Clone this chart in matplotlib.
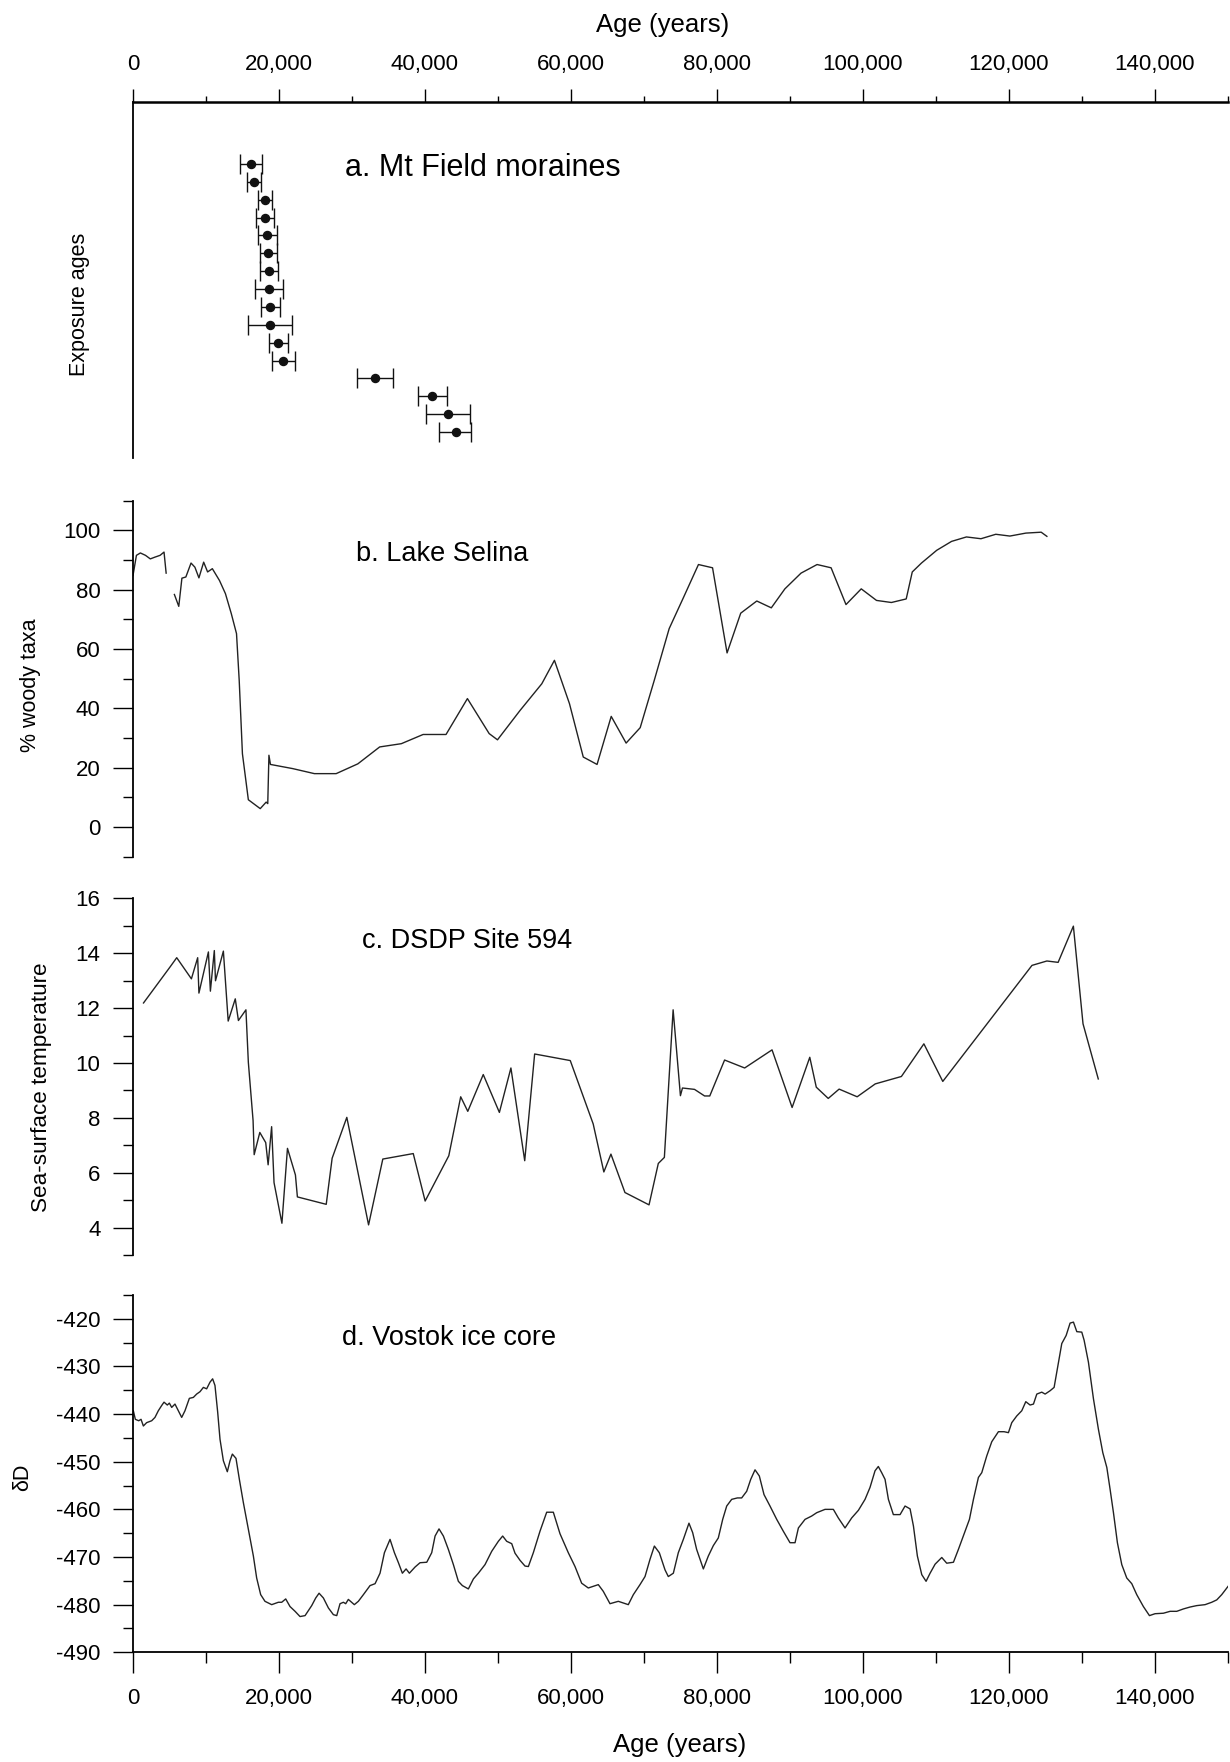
import numpy as np
import matplotlib
matplotlib.use("Agg")
import matplotlib.pyplot as plt
from matplotlib.ticker import MultipleLocator, FuncFormatter

plt.rcParams['font.family'] = ['Liberation Sans', 'DejaVu Sans']
plt.rcParams['axes.unicode_minus'] = False

# a. Mt Field moraines - exposure ages (years), with lower/upper error bounds
exp_age = [16170, 16580, 18040, 18040, 18400, 18540, 18630, 18630, 18770, 18810,
           19910, 20590, 33110, 41010, 43150, 44200]
exp_lo = [14660, 15660, 17170, 16800, 17170, 17400, 17400, 16710, 17540, 15800,
          18680, 19000, 30730, 39090, 40140, 41970]
exp_hi = [17630, 17490, 19090, 19360, 19680, 19680, 19910, 20550, 20140, 21780,
          21190, 22190, 35570, 42970, 46170, 46310]
exp_rank = list(range(1, 17))

# b. Lake Selina - % woody taxa (two segments, gap in record)
selina_age1 = [0, 470, 1010, 1710, 2370, 3010, 3710, 4250, 4540]
selina_val1 = [84.8, 91.6, 92.4, 91.6, 90.4, 91.0, 91.6, 92.7, 85.6]
selina_age2 = [5670, 6270, 6700, 7240, 7950, 8480, 9030, 9680, 10220, 10870,
               11850, 12660, 13470, 14180, 14550, 14990, 15800, 17430, 18240, 18460,
               18620, 18830, 21870, 24850, 27830, 30800, 33790, 36760, 39740, 42880,
               45810, 48790, 49930, 53020, 56000, 57730, 59790, 61680, 63570, 65510,
               67550, 69480, 71400, 73450, 75430, 77460, 79390, 81380, 83250, 85450,
               87440, 89300, 91510, 93710, 95630, 97670, 99760, 101850, 103890, 105920,
               106750, 108010, 110100, 112130, 114170, 116160, 118190, 120120, 122320, 124410,
               125190]
selina_val2 = [78.4, 74.4, 83.9, 84.3, 89.0, 87.6, 84.0, 89.3, 86.0, 87.1,
               83.1, 78.7, 71.9, 65.2, 49.4, 24.7, 9.2, 6.2, 8.4, 7.9,
               24.2, 21.1, 19.7, 18.0, 18.0, 21.3, 27.0, 28.1, 31.2, 31.2,
               43.3, 31.5, 29.4, 39.3, 48.3, 56.2, 41.6, 23.6, 21.1, 37.3,
               28.3, 33.5, 49.4, 66.9, 77.5, 88.5, 87.4, 58.7, 72.1, 76.2,
               73.9, 80.3, 85.6, 88.5, 87.4, 75.0, 80.3, 76.4, 75.7, 76.9,
               86.0, 89.0, 93.3, 96.3, 97.8, 97.2, 98.7, 98.1, 99.1, 99.4,
               98.0]

# c. DSDP Site 594 - sea-surface temperature
dsdp_age = [1440, 5070, 5990, 8000, 8860, 9030, 10330, 10600, 11140, 11300,
            12380, 13040, 14010, 14440, 15470, 15800, 16450, 16600, 17370, 18180,
            18510, 18990, 19320, 20400, 21160, 22250, 22520, 26470, 27280, 29290,
            32270, 34220, 38390, 40020, 43260, 44890, 45860, 47980, 50190, 51770,
            53660, 55020, 59900, 63040, 64500, 65470, 67390, 70690, 71960, 72790,
            73990, 74990, 75270, 76920, 78300, 79010, 81040, 83790, 87540, 90290,
            92710, 93600, 95240, 96730, 99200, 101680, 105260, 108340, 110930, 123150,
            125190, 126730, 128820, 130140, 132230]
dsdp_sst = [12.19, 13.5, 13.84, 13.07, 13.84, 12.55, 14.05, 12.62, 14.1, 13.0,
            14.08, 11.53, 12.34, 11.55, 11.94, 10.03, 7.9, 6.66, 7.47, 7.1,
            6.29, 7.68, 5.64, 4.16, 6.89, 5.92, 5.12, 4.85, 6.53, 8.02,
            4.1, 6.5, 6.7, 4.97, 6.62, 8.77, 8.24, 9.58, 8.2, 9.82,
            6.44, 10.33, 10.09, 7.78, 6.03, 6.68, 5.28, 4.83, 6.34, 6.56,
            11.94, 8.81, 9.09, 9.04, 8.8, 8.8, 10.11, 9.82, 10.48, 8.38,
            10.21, 9.12, 8.71, 9.05, 8.77, 9.24, 9.51, 10.7, 9.33, 13.56,
            13.72, 13.67, 14.99, 11.43, 9.42]

# d. Vostok ice core - deuterium
vostok_age = [46, 320, 780, 1100, 1420, 1870, 2560, 3010, 3470, 3930,
              4250, 4700, 4980, 5300, 5750, 6210, 6670, 7120, 7720, 8270,
              8720, 9180, 9640, 10090, 10550, 10910, 11230, 11600, 11920, 12380,
              12920, 13290, 13610, 14110, 14570, 15120, 15800, 16490, 16940, 17490,
              18080, 19000, 19910, 20370, 20920, 21510, 22200, 22880, 23570, 24480,
              25030, 25490, 26080, 26770, 27450, 27910, 28360, 28820, 29140, 29500,
              30320, 30870, 31560, 32470, 33160, 33840, 34440, 35210, 35810, 36360,
              36900, 37410, 37860, 38640, 39320, 40240, 40920, 41380, 41920, 42520,
              43200, 43890, 44570, 45120, 45940, 46630, 47310, 48220, 49140, 50050,
              50640, 51190, 51880, 52330, 53020, 53700,
              54160, 54840, 55750, 56670, 57580, 58490, 59630, 60550, 61460, 62370,
              63740, 64420, 65340, 66480, 67850, 68540, 69450, 70140, 70820, 71420,
              72100, 72880, 73330, 74020, 74700, 75390, 76160, 76670, 77210, 78130,
              78810, 79500, 80180, 80780, 81330, 82010, 82790, 83380, 84070, 84620,
              85210, 85800, 86440, 87260, 88180, 89090, 90000, 90690, 91150, 92060,
              92970, 93660, 94800, 95940, 96620, 97540, 98450, 99370, 100280, 100960,
              101650, 102100, 102560,
              103020, 103480, 104160, 105080, 105760, 106450, 106910, 107450, 108050, 108640,
              109190, 109880, 110790, 111470, 112390, 113070, 113990, 114580, 115130, 115810,
              116270, 116950, 117640, 118550, 119330, 119920, 120380, 121060, 121750, 122300,
              122890, 123350, 123810, 124490, 124950, 125630, 126180, 126780, 127230, 127830,
              128370, 128830, 129290, 129970, 130290, 130880, 131570, 132250, 132850, 133400,
              133850, 134310, 134850, 135450, 136130, 136820, 137500, 138410, 139240, 140010,
              141150, 142070, 142980, 143890, 144800, 145720, 146860, 147770, 148460, 149140,
              149830, 150290]
vostok_dD = [-439.3, -441.1, -441.4, -441.1, -442.5, -441.8, -441.4, -440.7, -439.3, -438.2,
             -437.5, -438.1, -437.7, -438.6, -437.9, -439.3, -440.7, -439.3, -436.7, -436.5,
             -435.8, -435.3, -434.4, -434.7, -433.3, -432.6, -434.0, -439.6, -445.3, -449.8,
             -452.1, -449.8, -448.4, -449.3, -453.7, -458.6, -464.2, -469.8, -474.4, -477.9,
             -479.3, -480.0, -479.5, -479.5, -478.8, -480.4, -481.4, -482.5, -482.3, -480.2,
             -478.6, -477.6, -478.6, -480.7, -482.1, -482.3, -479.8, -479.5, -479.8, -478.9,
             -480.0, -479.3, -477.9, -476.0, -475.6, -473.4, -469.1, -466.3, -469.1, -471.2,
             -473.4, -472.5, -473.4, -472.1, -471.2, -471.1, -469.1, -465.6, -464.1, -465.6,
             -468.4, -471.6, -475.1, -476.0, -476.7, -474.6, -473.4, -471.6, -468.8, -466.7,
             -465.6, -466.7, -467.2, -469.2, -470.7, -471.9,
             -472.0, -469.1, -464.6, -460.6, -460.6, -465.1, -469.1, -472.0, -475.5, -476.5,
             -475.8, -477.2, -479.8, -479.3, -480.0, -477.9, -475.8, -474.1, -470.5, -467.7,
             -469.1, -472.7, -474.1, -473.4, -469.1, -466.3, -462.9, -464.9, -468.4, -472.5,
             -469.8, -467.6, -466.0, -462.1, -459.3, -457.9, -457.6, -457.6, -456.2, -453.7,
             -451.7, -453.0, -456.9, -459.3, -462.1, -464.6, -467.0, -467.0, -463.9, -462.1,
             -461.4, -460.7, -460.0, -460.0, -461.8, -463.9, -461.8, -460.2, -457.9, -455.4,
             -451.9, -451.0, -452.3,
             -453.7, -457.9, -461.1, -461.1, -459.3, -459.9, -463.5, -469.8, -473.7, -475.1,
             -473.4, -471.5, -470.1, -471.3, -471.1, -468.4, -464.6, -462.1, -457.9, -453.3,
             -452.3, -448.8, -445.8, -443.7, -443.7, -443.9, -441.8, -440.4, -439.3, -437.4,
             -438.1, -437.9, -435.8, -435.4, -435.8, -435.1, -434.4, -429.1, -425.2, -423.5,
             -420.9, -420.7, -422.7, -422.8, -424.5, -429.1, -436.8, -443.2, -448.1, -451.2,
             -455.8, -460.7, -467.0, -471.6, -474.4, -475.6, -477.9, -480.4, -482.3, -481.9,
             -481.8, -481.4, -481.4, -480.9, -480.5, -480.2, -480.0, -479.5, -479.0, -477.9,
             -476.5, -475.6]

LW = 1.0
SPINE = 1.3
TICK_FS = 16
LABEL_FS = 15.5
PANEL_FS = 19.5
XLABEL_FS = 18.5

fig = plt.figure(figsize=(12.3, 17.62), dpi=100)
left, width = 0.10813, 0.89024
axA = fig.add_axes([left, 0.7401, width, 0.2020])
axB = fig.add_axes([left, 0.5138, width, 0.2020])
axC = fig.add_axes([left, 0.2877, width, 0.2024])
axD = fig.add_axes([left, 0.06226, width, 0.2028])

comma = FuncFormatter(lambda v, p: f'{int(v):,}')

for ax in (axA, axB, axC, axD):
    ax.set_xlim(0, 150000)
    for s in ax.spines.values():
        s.set_visible(False)
        s.set_linewidth(SPINE)
    ax.spines['left'].set_visible(True)
    ax.xaxis.set_major_locator(MultipleLocator(20000))
    ax.xaxis.set_minor_locator(MultipleLocator(10000))
    ax.tick_params(axis='y', which='major', direction='out', length=14.4, width=1.0,
                   pad=9, labelsize=TICK_FS)
    ax.tick_params(axis='y', which='minor', direction='out', length=7.2, width=1.0)

# --- panel a
axA.spines['top'].set_visible(True)
axA.spines['top'].set_linewidth(1.8)
axA.xaxis.tick_top()
axA.xaxis.set_label_position('top')
axA.xaxis.set_major_formatter(comma)
axA.tick_params(axis='x', which='major', direction='out', length=9.4, width=1.0,
                pad=10, labelsize=TICK_FS, top=True, bottom=False)
axA.tick_params(axis='x', which='minor', direction='out', length=4.3, width=1.0,
                top=True, bottom=False)
axA.set_yticks([])
axA.set_ylim(17.45, -2.47)
xerr = [np.array(exp_age) - np.array(exp_lo), np.array(exp_hi) - np.array(exp_age)]
axA.errorbar(exp_age, exp_rank, xerr=xerr, fmt='o', color='#111111', ms=5.8,
             elinewidth=1.0, capsize=7.2, capthick=1.0)
axA.set_xlabel('Age (years)', fontsize=XLABEL_FS)
axA.xaxis.set_label_coords(0.484, 1.216)
axA.xaxis.label.set_va('center')
axA.set_ylabel('Exposure ages', fontsize=LABEL_FS)
axA.yaxis.set_label_coords(-0.0493, 0.431)
axA.yaxis.label.set_va('center')
axA.text(0.1936, 0.8146, 'a. Mt Field moraines', transform=axA.transAxes,
         fontsize=22, va='center', ha='left')

# --- panel b
axB.tick_params(axis='x', which='both', bottom=False, labelbottom=False)
axB.set_ylim(-10, 110)
axB.yaxis.set_major_locator(MultipleLocator(20))
axB.yaxis.set_minor_locator(MultipleLocator(10))
axB.plot(selina_age1, selina_val1, color='#222222', lw=LW)
axB.plot(selina_age2, selina_val2, color='#222222', lw=LW)
axB.set_ylabel('% woody taxa', fontsize=LABEL_FS)
axB.yaxis.set_label_coords(-0.0935, 0.482)
axB.yaxis.label.set_va('center')
axB.text(0.2037, 0.850, 'b. Lake Selina', transform=axB.transAxes,
         fontsize=PANEL_FS, va='center', ha='left')

# --- panel c
axC.tick_params(axis='x', which='both', bottom=False, labelbottom=False)
axC.set_ylim(3, 16)
axC.yaxis.set_major_locator(MultipleLocator(2))
axC.yaxis.set_minor_locator(MultipleLocator(1))
axC.plot(dsdp_age, dsdp_sst, color='#222222', lw=LW)
axC.set_ylabel('Sea-surface temperature', fontsize=16.2)
axC.yaxis.set_label_coords(-0.0836, 0.47)
axC.yaxis.label.set_va('center')
axC.text(0.209, 0.880, 'c. DSDP Site 594', transform=axC.transAxes,
         fontsize=PANEL_FS, va='center', ha='left')

# --- panel d
axD.spines['bottom'].set_visible(True)
axD.set_ylim(-490, -415)
axD.yaxis.set_major_locator(MultipleLocator(10))
axD.yaxis.set_minor_locator(MultipleLocator(5))
axD.xaxis.set_major_formatter(comma)
axD.tick_params(axis='x', which='major', direction='out', length=15, width=1.0,
                pad=11, labelsize=TICK_FS)
axD.tick_params(axis='x', which='minor', direction='out', length=8, width=1.0)
axD.plot(vostok_age, vostok_dD, color='#222222', lw=LW)
axD.set_xlabel('Age (years)', fontsize=XLABEL_FS)
axD.xaxis.set_label_coords(0.499, -0.259)
axD.xaxis.label.set_va('center')
axD.set_ylabel('δD', fontsize=LABEL_FS)
axD.yaxis.set_label_coords(-0.1006, 0.489)
axD.yaxis.label.set_va('center')
axD.text(0.191, 0.879, 'd. Vostok ice core', transform=axD.transAxes,
         fontsize=PANEL_FS, va='center', ha='left')

fig.savefig('out.png', dpi=100)
